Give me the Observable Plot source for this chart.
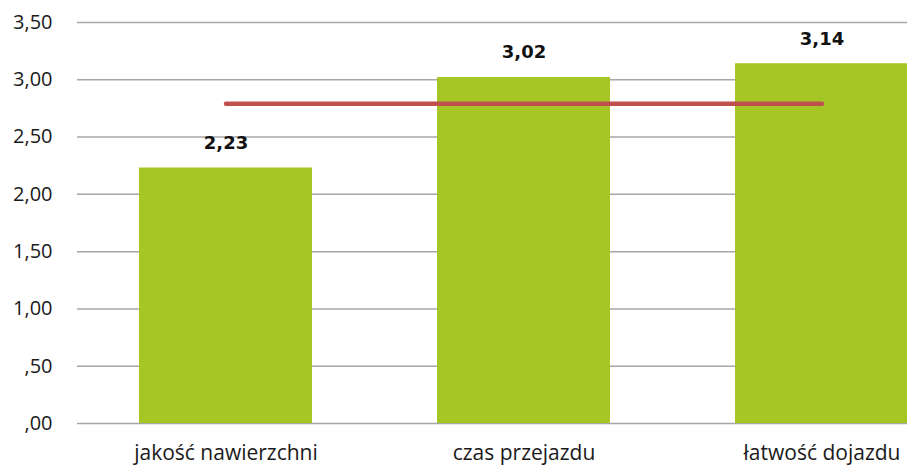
<!DOCTYPE html>
<html>
<head>
<meta charset="utf-8">
<script src="https://cdn.jsdelivr.net/npm/d3@7"></script>
<script src="https://cdn.jsdelivr.net/npm/@observablehq/plot@0.6"></script>
<style>
  html, body { margin: 0; padding: 0; background: #fff; overflow: hidden; }
  #chart svg { overflow: hidden; }
</style>
</head>
<body>
<div id="chart"></div>
<script>
const categories = ["jakość nawierzchni", "czas przejazdu", "łatwość dojazdu"];
const values = [2.23, 3.02, 3.14];
const valueLabels = ["2,23", "3,02", "3,14"];
const averageValue = 2.79;
const yTicks = [0, 0.5, 1, 1.5, 2, 2.5, 3, 3.5];
const yTickLabels = [",00", ",50", "1,00", "1,50", "2,00", "2,50", "3,00", "3,50"];

const rows = categories.map((c, i) => ({cat: c, value: values[i], label: valueLabels[i], avg: averageValue}));

const chart = Plot.plot({
  width: 907,
  height: 468,
  marginTop: 22,
  marginBottom: 45,
  marginLeft: 77,
  marginRight: 0,
  style: {fontFamily: "'Open Sans', sans-serif", fontSize: "18px", color: "#222", background: "#fff"},
  x: {domain: categories, range: [76, 970], paddingInner: 0.42, paddingOuter: 0.21, label: null},
  y: {domain: [0, 3.5], label: null},
  marks: [
    Plot.ruleY(yTicks, {stroke: "#a6a6a6", strokeWidth: 1.5, strokeOpacity: 1}),
    Plot.axisY({ticks: yTicks, tickFormat: (d) => yTickLabels[yTicks.indexOf(d)], tickSize: 0, tickPadding: 25, label: null, fontSize: 20, fill: "#1a1a1a"}),
    Plot.axisX({tickSize: 0, tickPadding: 22, label: null, fontSize: 21, fill: "#1a1a1a"}),
    Plot.barY(rows, {x: "cat", y: "value", fill: "#a5c625"}),
    Plot.line(rows, {x: "cat", y: "avg", stroke: "#c0504d", strokeWidth: 4.5, strokeLinecap: "round"}),
    Plot.text(rows, {x: "cat", y: "value", text: "label", dy: -25, fontFamily: "'DejaVu Sans', sans-serif", fontWeight: "bold", fontSize: 18, fill: "#111"})
  ]
});
document.getElementById("chart").appendChild(chart);
</script>
</body>
</html>
